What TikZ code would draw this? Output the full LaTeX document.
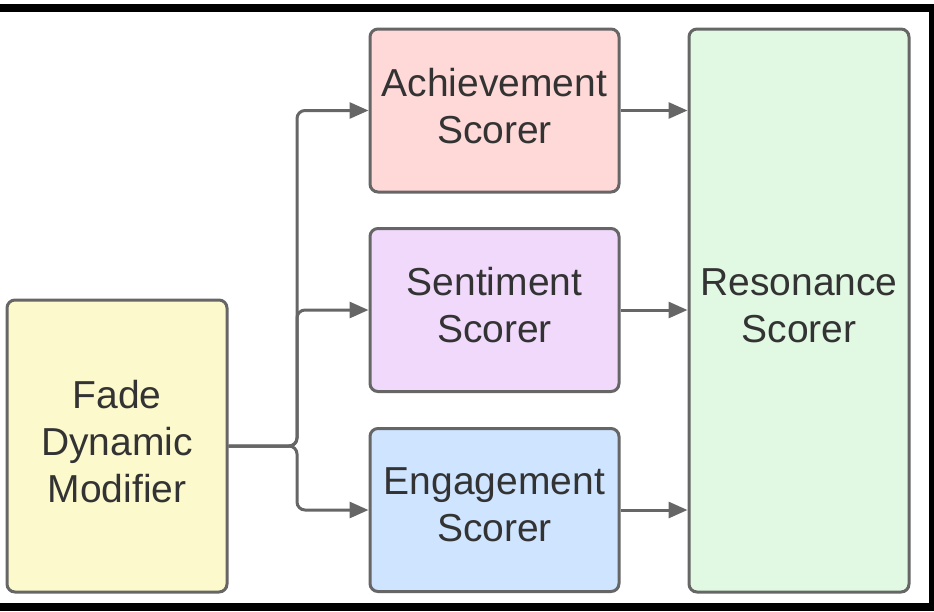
\documentclass[tikz,border=0pt]{standalone}
\usepackage{fontspec}
\setmainfont{Liberation Sans}
\usetikzlibrary{arrows.meta}
\definecolor{edge}{HTML}{666666}
\definecolor{cpink}{HTML}{FFD8D8}
\definecolor{cpurple}{HTML}{F1D9FC}
\definecolor{cblue}{HTML}{CFE4FF}
\definecolor{cgreen}{HTML}{E1F9E3}
\definecolor{cyellow}{HTML}{FCFACC}
\definecolor{txt}{HTML}{333333}
\begin{document}
\begin{tikzpicture}[x=1pt,y=-1pt,
  box/.style={draw=edge, line width=3pt, rounded corners=8pt, align=center,
    text=txt, font=\fontsize{39}{47}\selectfont, inner sep=0pt, text depth=10pt},
  conn/.style={draw=edge, line width=3pt, rounded corners=8pt,
    -{Triangle[length=19pt,width=16pt]}}]
\useasboundingbox (0,0) rectangle (934,611);
\fill[white] (0,0) rectangle (934,611);
\fill[black] (0,4) rectangle (934,12);
\fill[black] (929,4) rectangle (934,611);
\fill[black] (0,603) rectangle (934,611);
\node[box, fill=cyellow, minimum width=220pt, minimum height=292pt] (fade) at (117,446) {Fade\\Dynamic\\Modifier};
\node[box, fill=cpink, minimum width=249pt, minimum height=163pt] (ach) at (494.5,110.5) {Achievement\\Scorer};
\node[box, fill=cpurple, minimum width=249pt, minimum height=163pt] (sen) at (494.5,310) {Sentiment\\Scorer};
\node[box, fill=cblue, minimum width=249pt, minimum height=163pt] (eng) at (494.5,510) {Engagement\\Scorer};
\node[box, fill=cgreen, minimum width=220pt, minimum height=563pt] (res) at (799,310.5) {Resonance\\Scorer};
\coordinate (split) at (297,446);
\draw[conn] (fade.east) -- (split) |- (ach.west);
\draw[conn] (fade.east) -- (split) |- (sen.west);
\draw[conn] (fade.east) -- (split) |- (eng.west);
\draw[conn] (ach.east) -- (ach.east -| res.west);
\draw[conn] (sen.east) -- (sen.east -| res.west);
\draw[conn] (eng.east) -- (eng.east -| res.west);
\end{tikzpicture}
\end{document}
